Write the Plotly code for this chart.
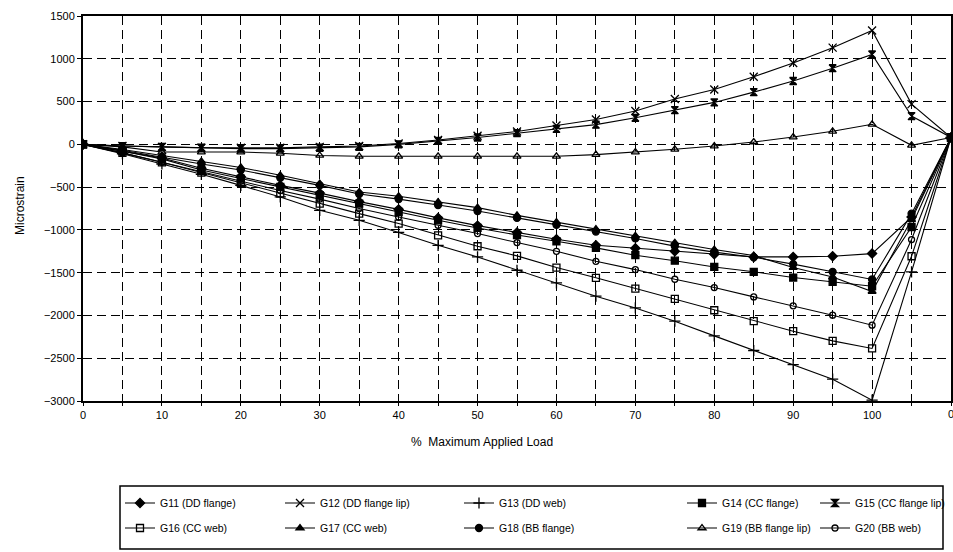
import plotly.graph_objects as go

load_labels = [0, 5, 10, 15, 20, 25, 30, 35, 40, 45, 50, 55, 60, 65, 70, 75, 80, 85, 90, 95, 100, 105, 0]

g11 = [0, -80, -160, -280, -380, -480, -570, -670, -760, -860, -950, -1030, -1110, -1180, -1215, -1250, -1285, -1316, -1316, -1308, -1277, -850, 80]
g12 = [0, -20, -30, -40, -40, -40, -30, -20, 10, 50, 100, 150, 220, 290, 390, 530, 640, 790, 950, 1130, 1330, 470, 80]
g13 = [0, -110, -230, -350, -480, -615, -771, -888, -1030, -1180, -1316, -1472, -1620, -1775, -1912, -2067, -2239, -2410, -2574, -2745, -2990, -1491, 80]
g14 = [0, -80, -170, -300, -400, -498, -596, -693, -791, -888, -977, -1060, -1133, -1210, -1296, -1360, -1433, -1490, -1557, -1608, -1659, -966, 80]
g15 = [0, -20, -30, -40, -50, -50, -40, -30, 0, 40, 80, 130, 180, 230, 310, 400, 490, 610, 740, 890, 1050, 330, 80]
g16 = [0, -100, -210, -330, -450, -576, -693, -810, -926, -1063, -1191, -1304, -1440, -1560, -1686, -1807, -1939, -2067, -2184, -2297, -2386, -1308, 80]
g17 = [0, -60, -130, -200, -270, -362, -459, -557, -607, -674, -740, -830, -910, -990, -1070, -1150, -1230, -1300, -1440, -1550, -1720, -880, 80]
g18 = [0, -70, -150, -230, -300, -390, -480, -580, -640, -710, -780, -860, -940, -1020, -1100, -1190, -1260, -1320, -1400, -1490, -1580, -810, 80]
g19 = [0, -30, -90, -90, -90, -105, -130, -140, -140, -140, -140, -140, -140, -120, -90, -58, -20, 27, 85, 152, 234, -12, 80]
g20 = [0, -100, -210, -320, -430, -540, -640, -750, -850, -946, -1043, -1148, -1250, -1367, -1464, -1577, -1674, -1783, -1888, -1997, -2114, -1113, 80]

series_names = ["G11 (DD flange)", "G12 (DD flange lip)", "G13 (DD web)", "G14 (CC flange)",
                "G15 (CC flange lip)", "G16 (CC web)", "G17 (CC web)", "G18 (BB flange)",
                "G19 (BB flange lip)", "G20 (BB web)"]
series_values = [g11, g12, g13, g14, g15, g16, g17, g18, g19, g20]

symbols = ["diamond", "x-thin-open", "cross-thin-open", "square", "hourglass",
           "square-open", "triangle-up", "circle", "triangle-up-open", "circle-open"]
sizes = [7, 8, 8, 7, 7, 7, 7, 7, 7, 6]

x_idx = list(range(len(load_labels)))

FONT = "Liberation Sans, Arial, sans-serif"

# plot area geometry (px)
L, R, T, B = 83, 951, 16, 401
W, H = R - L, B - T

def px_x(p):
    return (p - L) / W

def px_y(p):
    return (B - p) / H

# legend positions: text starts of columns, row centers
col_text = [162, 322, 501, 724, 857]
row_y = [503, 528]

fig = go.Figure()
for i, (name, vals) in enumerate(zip(series_names, series_values)):
    lg = "legend" if i == 0 else f"legend{i + 1}"
    fig.add_trace(go.Scatter(
        x=x_idx, y=vals, name=name, mode="lines+markers",
        line=dict(color="black", width=1.1),
        marker=dict(symbol=symbols[i], size=sizes[i], color="black",
                    line=dict(color="black", width=1.3)),
        legend=lg,
    ))

layout_legends = {}
for i in range(10):
    row = i // 5
    col = i % 5
    key = "legend" if i == 0 else f"legend{i + 1}"
    layout_legends[key] = dict(
        x=px_x(col_text[col] - 42), xanchor="left",
        y=px_y(row_y[row]), yanchor="middle",
        bgcolor="rgba(0,0,0,0)", borderwidth=0,
        font=dict(family=FONT, size=10.5, color="black"),
        itemwidth=30,
    )

fig.update_layout(
    width=953, height=552,
    margin=dict(l=L, r=953 - R, t=T, b=552 - B, autoexpand=False),
    paper_bgcolor="white", plot_bgcolor="white",
    showlegend=True,
    font=dict(family=FONT, size=11, color="black"),
    **layout_legends,
)

ticktext = [str(v) if (v % 10 == 0) else "" for v in load_labels]
ticktext[-1] = ""  # last label drawn as annotation (clipped at the edge)

fig.update_xaxes(
    range=[0, len(load_labels) - 1],
    tickmode="array", tickvals=x_idx, ticktext=ticktext,
    showgrid=True, gridcolor="black", gridwidth=1, griddash="9px,5px",
    showline=True, linecolor="black", linewidth=2, mirror=True,
    ticks="outside", ticklen=3, tickcolor="black",
    zeroline=False, automargin=False,
    tickfont=dict(family=FONT, size=11, color="black"),
)
fig.update_yaxes(
    range=[-3000, 1500], dtick=500, tick0=0,
    showgrid=True, gridcolor="black", gridwidth=1, griddash="9px,5px",
    showline=True, linecolor="black", linewidth=2, mirror=True,
    ticks="outside", ticklen=4, tickcolor="black",
    zeroline=False, automargin=False,
    tickfont=dict(family=FONT, size=11, color="black"),
)

fig.add_annotation(
    text=str(load_labels[-1]), xref="x", yref="paper",
    x=x_idx[-1], y=px_y(414), xanchor="center", yanchor="middle",
    showarrow=False, font=dict(family=FONT, size=11, color="black"),
)
fig.add_annotation(
    text="%  Maximum Applied Load", xref="paper", yref="paper",
    x=px_x(482), y=px_y(442), xanchor="center", yanchor="middle",
    showarrow=False, font=dict(family=FONT, size=12, color="black"),
)
fig.add_annotation(
    text="Microstrain", xref="paper", yref="paper",
    x=px_x(20), y=px_y(205), xanchor="center", yanchor="middle", textangle=-90,
    showarrow=False, font=dict(family=FONT, size=12, color="black"),
)

fig.add_shape(
    type="rect", xref="paper", yref="paper",
    x0=px_x(120), x1=px_x(943), y0=px_y(549), y1=px_y(486),
    line=dict(color="black", width=1.5), fillcolor="rgba(0,0,0,0)",
)

fig.write_html("out.html")
